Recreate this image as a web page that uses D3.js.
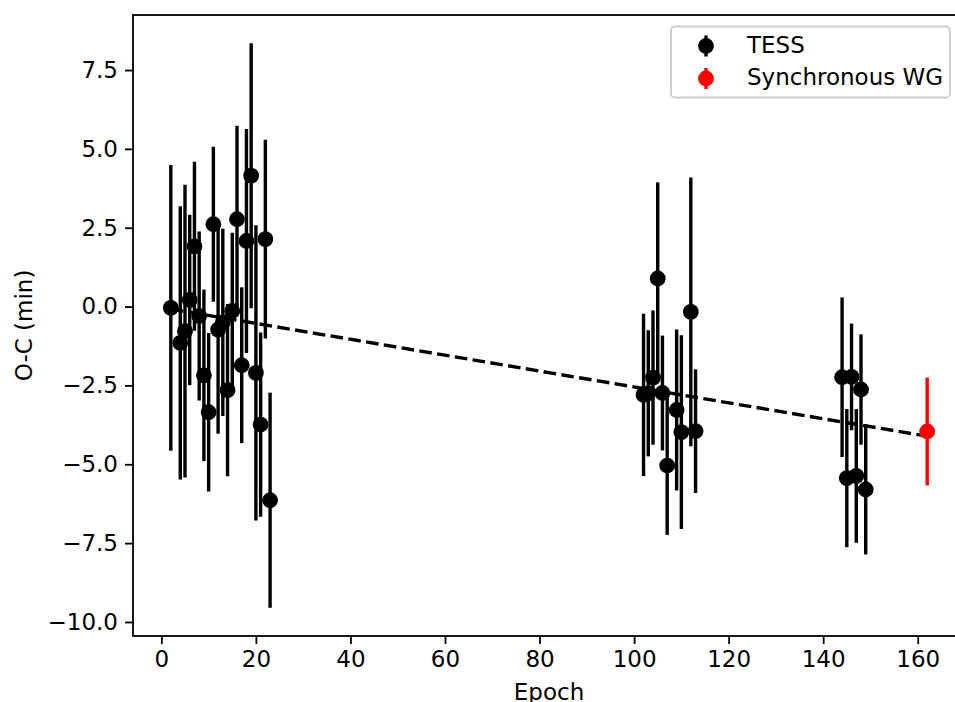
<!DOCTYPE html>
<html>
<head>
<meta charset="utf-8">
<script src="https://cdn.jsdelivr.net/npm/d3@7"></script>
<style>
  html, body { margin: 0; padding: 0; background: #fff; }
  svg { display: block; font-family: "DejaVu Sans", sans-serif; }
</style>
</head>
<body>
<svg id="chart" width="955" height="702"></svg>
<script>
// TESS transit timings (epoch, O-C in minutes, 1-sigma error)
const tessEpochs = [2, 4, 5, 6, 7, 8, 9, 10, 11, 12, 13, 14, 15, 16, 17, 18, 19, 20, 21, 22, 23,
  102, 103, 104, 105, 106, 107, 109, 110, 112, 113,
  144, 145, 146, 147, 148, 149];
const tessOC = [-0.04, -1.15, -0.78, 0.21, 1.91, -0.3, -2.18, -3.35, 2.61, -0.73, -0.5, -2.65, -0.14, 2.77, -1.86, 2.08, 4.15, -2.1, -3.74, 2.14, -6.14,
  -2.8, -2.75, -2.25, 0.89, -2.74, -5.04, -3.28, -3.98, -0.17, -3.95,
  -2.24, -5.44, -2.23, -5.37, -2.63, -5.8];
const tessErr = [4.53, 4.33, 4.64, 2.7, 2.68, 2.68, 2.72, 2.51, 2.46, 3.3, 2.97, 2.73, 2.48, 2.96, 2.47, 3.55, 4.2, 4.68, 2.92, 3.15, 3.41,
  2.57, 2.0, 2.13, 3.05, 1.82, 2.2, 2.55, 3.07, 4.26, 1.96,
  2.53, 2.19, 1.69, 2.12, 1.75, 2.06];

// Synchronous WG point
const wgEpochs = [162];
const wgOC = [-3.96];
const wgErr = [1.71];

// Linear ephemeris (dashed line end points)
const fitEpochs = [2, 162];
const fitOC = [-0.08, -4.11];

const xTicks = [0, 20, 40, 60, 80, 100, 120, 140, 160];
const yTicks = [-10, -7.5, -5, -2.5, 0, 2.5, 5, 7.5];

const legendLabels = ["TESS", "Synchronous WG"];
const legendColors = ["#000000", "#ff0000"];

function drawChart() {
  const svg = d3.select("#chart");
  const margin = { top: 15, right: -10, bottom: 66, left: 133 };
  const width = 955 - margin.left - margin.right;
  const height = 702 - margin.top - margin.bottom;
  const fontSize = 23;

  const tess = tessEpochs.map((e, i) => ({ epoch: e, oc: tessOC[i], err: tessErr[i] }));
  const wg = wgEpochs.map((e, i) => ({ epoch: e, oc: wgOC[i], err: wgErr[i] }));
  const all = tess.concat(wg);

  // matplotlib style 5% margins
  const xExt = d3.extent(all, (d) => d.epoch);
  const xPad = (xExt[1] - xExt[0]) * 0.05;
  const yMin = d3.min(all, (d) => d.oc - d.err);
  const yMax = d3.max(all, (d) => d.oc + d.err);
  const yPad = (yMax - yMin) * 0.05;

  const x = d3.scaleLinear()
    .domain([xExt[0] - xPad, xExt[1] + xPad])
    .range([0, width]);
  const y = d3.scaleLinear()
    .domain([yMin - yPad, yMax + yPad])
    .range([height, 0]);

  const g = svg.append("g")
    .attr("transform", `translate(${margin.left},${margin.top})`);

  const fmtY = (v) => d3.format(".1f")(v).replace("-", "\u2212");

  // Axes
  const xAxis = g.append("g")
    .attr("transform", `translate(0,${height})`)
    .call(d3.axisBottom(x).tickValues(xTicks).tickSize(8).tickPadding(7).tickFormat(d3.format("d")));
  const yAxis = g.append("g")
    .call(d3.axisLeft(y).tickValues(yTicks).tickSize(8).tickPadding(7).tickFormat(fmtY));

  [xAxis, yAxis].forEach((ax) => {
    ax.select(".domain").remove();
    ax.selectAll(".tick line").attr("stroke", "#000").attr("stroke-width", 1.8);
    ax.selectAll(".tick text")
      .attr("fill", "#000")
      .style("font-size", fontSize + "px")
      .style("font-family", "DejaVu Sans");
  });

  // Frame
  g.append("rect")
    .attr("x", 0)
    .attr("y", 0)
    .attr("width", width)
    .attr("height", height)
    .attr("fill", "none")
    .attr("stroke", "#000")
    .attr("stroke-width", 1.8);

  // Axis labels
  svg.append("text")
    .attr("x", margin.left + width / 2)
    .attr("y", 700)
    .attr("text-anchor", "middle")
    .style("font-size", fontSize + "px")
    .text("Epoch");

  svg.append("text")
    .attr("transform", `translate(32,${margin.top + height / 2}) rotate(-90)`)
    .attr("text-anchor", "middle")
    .style("font-size", fontSize + "px")
    .text("O-C (min)");

  // Error bars + markers
  function drawSeries(data, color) {
    const s = g.append("g");
    s.selectAll("line")
      .data(data)
      .enter()
      .append("line")
      .attr("x1", (d) => x(d.epoch))
      .attr("x2", (d) => x(d.epoch))
      .attr("y1", (d) => y(d.oc - d.err))
      .attr("y2", (d) => y(d.oc + d.err))
      .attr("stroke", color)
      .attr("stroke-width", 3.4);
    s.selectAll("circle")
      .data(data)
      .enter()
      .append("circle")
      .attr("cx", (d) => x(d.epoch))
      .attr("cy", (d) => y(d.oc))
      .attr("r", 7.9)
      .attr("fill", color);
  }

  drawSeries(tess, "#000000");

  // Dashed fit line
  const line = d3.line()
    .x((d) => x(d.epoch))
    .y((d) => y(d.oc));
  g.append("path")
    .datum(fitEpochs.map((e, i) => ({ epoch: e, oc: fitOC[i] })))
    .attr("fill", "none")
    .attr("stroke", "#000")
    .attr("stroke-width", 3.4)
    .attr("stroke-dasharray", "12.6,5.4")
    .attr("d", line);

  drawSeries(wg, "#ff0000");

  // Legend
  const legend = svg.append("g");
  legend.append("rect")
    .attr("x", 671)
    .attr("y", 26.5)
    .attr("width", 279)
    .attr("height", 71)
    .attr("rx", 4)
    .attr("fill", "#fff")
    .attr("fill-opacity", 0.8)
    .attr("stroke", "#cccccc")
    .attr("stroke-width", 1.8);

  const rows = legend.selectAll(".row")
    .data(legendLabels)
    .enter()
    .append("g")
    .attr("transform", (d, i) => `translate(0,${46 + i * 32.5})`);
  rows.append("line")
    .attr("x1", 706)
    .attr("x2", 706)
    .attr("y1", -10.5)
    .attr("y2", 10.5)
    .attr("stroke", (d, i) => legendColors[i])
    .attr("stroke-width", 3.4);
  rows.append("circle")
    .attr("cx", 706)
    .attr("cy", 0)
    .attr("r", 7.9)
    .attr("fill", (d, i) => legendColors[i]);
  rows.append("text")
    .attr("x", 747)
    .attr("y", 6.5)
    .style("font-size", fontSize + "px")
    .text((d) => d);
}

drawChart();
</script>
</body>
</html>
